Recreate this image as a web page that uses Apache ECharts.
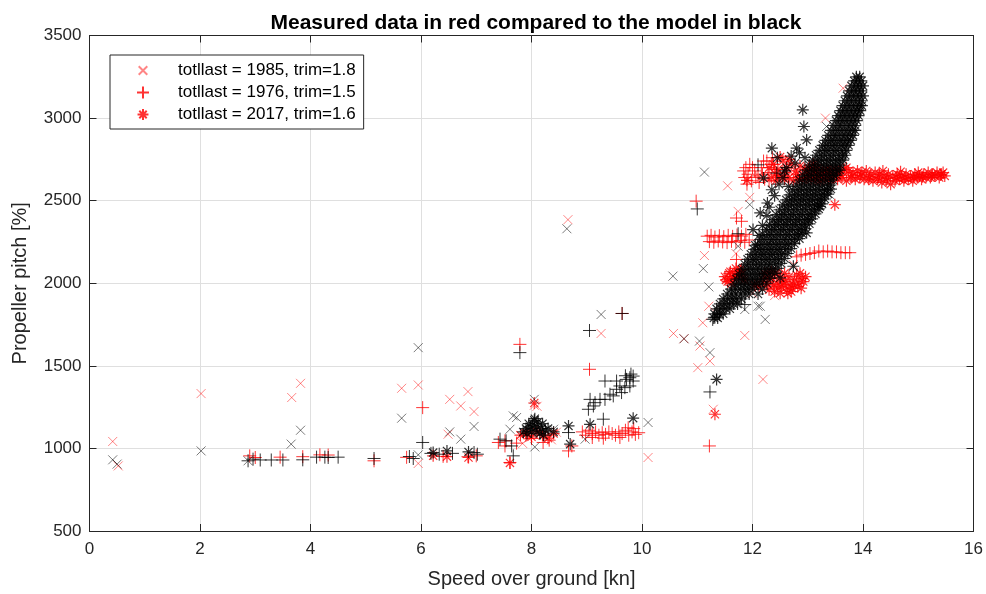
<!DOCTYPE html>
<html>
<head>
<meta charset="utf-8">
<script src="https://cdn.jsdelivr.net/npm/echarts@6/dist/echarts.min.js"></script>
<style>
  html, body { margin: 0; padding: 0; background: #fff; }
  #chart { width: 986px; height: 594px; }
</style>
</head>
<body>
<div id="chart"></div>
<script>
// Axis ticks
const xTicks = [0, 2, 4, 6, 8, 10, 12, 14, 16];
const yTicks = [500, 1000, 1500, 2000, 2500, 3000, 3500];

// Legend labels of the measured series
const nameMeas1985 = 'totllast = 1985, trim=1.8';
const nameMeas1976 = 'totllast = 1976, trim=1.5';
const nameMeas2017 = 'totllast = 2017, trim=1.6';

// Measured data, totllast = 1985 (speed [kn], pitch)
const measured1985 = [
  [0.42, 1042], [0.52, 894], [2.02, 1332], [3.66, 1308], [3.82, 1394],
  [5.95, 909], [5.65, 1364], [5.95, 1384], [6.52, 1297], [6.85, 1344],
  [6.72, 1257], [6.96, 1223], [6.49, 1086], [8.05, 1261], [8.66, 2385],
  [9.26, 1696], [10.11, 945], [10.57, 1696], [10.76, 1664], [11.05, 1620],
  [11.23, 1529], [11.01, 1489], [11.10, 1761], [11.21, 1861], [11.29, 1237],
  [11.13, 2168], [11.74, 2435], [11.86, 1684], [12.19, 1418], [13.32, 3000],
  [13.64, 3181], [11.95, 2520], [12.74, 2113], [12.00, 1940], [12.40, 1925],
  [7.95, 1062], [8.22, 1082], [8.36, 1052], [8.45, 1098], [7.84, 1030],
  [8.10, 1255], [11.55, 2590], [11.70, 2180]
];

// Measured data, totllast = 1976
const measured1976 = [
  [2.90, 955], [3.00, 945], [3.45, 947], [3.86, 950], [4.17, 961], [4.32, 960],
  [5.15, 925], [5.74, 946], [6.03, 1247], [6.40, 952], [6.85, 950], [7.00, 955],
  [7.40, 1036], [7.52, 1046], [7.73, 1032], [7.61, 915], [7.79, 1630],
  [7.52, 1015], [8.21, 1036], [7.90, 1080], [8.00, 1060], [8.32, 1050],
  [8.67, 985], [8.73, 1015], [9.05, 1479], [9.64, 1817], [10.98, 2497], [11.22, 1015],
  [11.71, 2395], [11.80, 2375], [11.71, 2144], [11.80, 2083],
  // run near 1100
  [8.92, 1100], [8.98, 1080], [9.04, 1110], [9.10, 1090], [9.16, 1100], [9.22, 1080],
  [9.28, 1095], [9.34, 1085], [9.40, 1100], [9.46, 1090], [9.52, 1080], [9.58, 1100],
  [9.64, 1090], [9.70, 1110], [9.76, 1080], [9.82, 1100], [9.88, 1085], [9.94, 1095],
  [9.30, 1062], [9.60, 1066], [9.85, 1120], [9.75, 1125], [9.10, 1066],
  // run near 2270
  [11.18, 2285], [11.25, 2290], [11.32, 2280], [11.40, 2288], [11.48, 2282],
  [11.56, 2290], [11.64, 2284], [11.72, 2292], [11.80, 2286], [11.88, 2296],
  [11.22, 2252], [11.30, 2248], [11.38, 2256], [11.46, 2250], [11.54, 2246],
  [11.62, 2254], [11.70, 2250], [11.78, 2258], [11.86, 2248], [11.94, 2262],
  // run near 2190
  [12.80, 2160], [12.88, 2170], [12.96, 2175], [13.04, 2180], [13.12, 2185],
  [13.20, 2195], [13.28, 2190], [13.36, 2195], [13.44, 2190], [13.52, 2190],
  [13.60, 2185], [13.68, 2185], [13.76, 2185],
  // start of run near 2650
  [11.86, 2640], [11.92, 2660], [11.98, 2620], [12.04, 2680], [12.10, 2650],
  [12.16, 2700], [12.22, 2630], [12.28, 2670], [12.34, 2720], [11.90, 2600],
  [12.00, 2700], [12.12, 2610], [12.26, 2740], [12.40, 2690], [12.46, 2650],
  [11.84, 2680], [11.95, 2720], [12.06, 2640], [12.18, 2660], [12.30, 2620],
  [12.20, 2740], [12.36, 2760], [11.88, 2700]
];

// Measured data, totllast = 2017
const measured2017 = [
  [6.22, 955], [6.47, 950], [6.86, 945], [7.61, 912], [7.80, 1080], [7.90, 1092],
  [8.00, 1070], [8.10, 1100], [8.20, 1080], [8.30, 1062], [8.40, 1090], [8.05, 1275],
  [11.32, 1207], [13.49, 2476], [11.90, 2623],
  // cluster near 2000
  [11.50, 2040], [11.58, 2060], [11.66, 2030], [11.74, 2070], [11.62, 2000],
  [11.70, 2090], [11.55, 2010], [11.80, 2050], [11.85, 2020], [12.20, 2010],
  [12.28, 1990], [12.36, 2030], [12.44, 2000], [12.52, 1980], [12.60, 2010],
  [12.68, 1990], [12.76, 2020], [12.84, 2000], [12.90, 2030], [12.30, 1960],
  [12.40, 1950], [12.50, 1940], [12.62, 1960], [12.72, 1970], [12.22, 2060],
  [12.34, 2070], [12.48, 2050], [12.58, 2060], [12.80, 2050], [12.12, 1980],
  [12.04, 1990], [11.60, 2070], [11.68, 2050], [11.78, 2080], [11.52, 2020],
  [11.64, 2040], [12.26, 2030], [12.42, 2060], [12.54, 2020], [12.66, 2040],
  [12.74, 1990], [12.86, 2060], [12.92, 2010], [12.38, 1990], [12.46, 1970],
  [12.56, 1990], [12.64, 1940], [12.70, 1950], [12.82, 1980], [12.88, 1970],
  [12.96, 2040],
  // run near 2650, upper row
  [12.30, 2700], [12.38, 2720], [12.46, 2690], [12.55, 2740], [12.62, 2700],
  [12.70, 2720], [12.78, 2680], [12.86, 2710], [12.94, 2690], [13.02, 2700],
  [13.10, 2680], [13.18, 2700], [13.26, 2670], [13.34, 2690], [13.42, 2680],
  [13.50, 2690], [13.58, 2670], [13.66, 2690], [13.74, 2680], [13.82, 2670],
  [13.90, 2680], [13.98, 2670], [14.06, 2680], [14.14, 2660], [14.22, 2670],
  [14.30, 2660], [14.38, 2650], [14.46, 2660], [14.54, 2650], [14.62, 2660],
  [14.70, 2650], [14.78, 2660], [14.86, 2650], [14.94, 2660], [15.02, 2650],
  [15.10, 2660], [15.18, 2670], [15.26, 2660], [15.34, 2670], [15.42, 2660],
  [15.48, 2650],
  // run near 2650, middle row
  [12.42, 2660], [12.60, 2670], [12.80, 2660], [13.00, 2665], [13.20, 2655],
  [13.40, 2660], [13.60, 2655], [13.80, 2650], [13.96, 2655], [14.12, 2645],
  [14.28, 2640], [14.44, 2635], [14.60, 2640], [14.76, 2640], [14.92, 2640],
  [15.08, 2645], [15.24, 2650], [15.40, 2655], [14.36, 2680], [14.68, 2675],
  [15.00, 2670], [13.70, 2700], [13.10, 2720], [12.66, 2750], [12.50, 2765],
  // run near 2650, lower row
  [12.34, 2640], [12.42, 2620], [12.50, 2650], [12.58, 2630], [12.66, 2640],
  [12.74, 2620], [12.82, 2640], [12.90, 2630], [12.98, 2640], [13.06, 2630],
  [13.14, 2640], [13.22, 2620], [13.30, 2640], [13.38, 2630], [13.46, 2640],
  [13.54, 2630], [13.62, 2640], [13.70, 2620], [13.78, 2640], [13.86, 2630],
  [13.94, 2640], [14.02, 2630], [14.10, 2630], [14.18, 2620], [14.26, 2630],
  [14.34, 2610], [14.42, 2620], [14.50, 2600], [14.58, 2620], [14.66, 2630],
  [14.74, 2620], [14.82, 2630], [14.90, 2620], [14.98, 2640], [15.06, 2630],
  [15.14, 2640], [15.22, 2640], [15.30, 2650], [15.38, 2640], [15.45, 2670]
];

// Model, totllast = 1985
const model1985 = [
  [0.42, 931], [0.50, 905], [2.02, 985], [3.65, 1026], [3.82, 1110], [2.87, 925],
  [5.95, 961], [5.65, 1183], [5.95, 1610], [6.96, 1133], [6.52, 1100], [6.72, 1056],
  [8.05, 1297], [8.06, 1009], [7.67, 1197], [7.61, 1116], [7.73, 1187], [8.40, 1116],
  [8.64, 2330], [9.26, 1811], [10.11, 1157], [8.97, 1056], [10.76, 1664], [11.04, 1650],
  [11.23, 1580], [11.13, 2673], [11.11, 2089], [10.56, 2043], [11.21, 1978],
  [11.74, 2224], [11.86, 1841], [12.14, 1861], [12.23, 1781], [11.95, 2476],
  [13.40, 2536], [13.34, 2949], [12.74, 2103], [12.10, 1861]
];

// Model, totllast = 1976
const model1976 = [
  [2.87, 925], [2.96, 935], [3.09, 930], [3.29, 930], [3.50, 930], [3.86, 931],
  [4.11, 947], [4.26, 947], [4.32, 945], [4.50, 947], [5.15, 939], [5.79, 951],
  [5.86, 939], [6.03, 1036], [6.18, 970], [6.33, 965], [6.57, 970], [6.96, 975],
  [7.02, 965], [7.43, 1056], [7.54, 1046], [7.64, 1015], [7.67, 955], [7.79, 1580],
  [8.67, 1096], [9.05, 1714], [9.64, 1817],
  [9.06, 1297], [9.15, 1277], [9.24, 1297], [9.33, 1297], [9.42, 1328], [9.54, 1358],
  [9.60, 1378], [9.72, 1418], [9.78, 1428], [9.84, 1408], [9.30, 1177], [9.48, 1318],
  [9.54, 1408], [9.33, 1408], [9.63, 1338], [9.78, 1378], [9.84, 1438], [9.69, 1368],
  [9.12, 1257], [9.03, 1237], [9.70, 1440], [9.80, 1450],
  [11.00, 2450], [11.23, 1342], [11.28, 1781], [11.32, 1795], [11.40, 1810],
  [11.74, 2300], [11.86, 1871], [12.44, 2667], [12.10, 2717]
];

// Model, totllast = 2017: scattered points
const model2017 = [
  [6.22, 975], [6.47, 985], [6.86, 979], [9.84, 1183], [9.06, 1146], [8.67, 1136],
  [8.70, 1026], [11.35, 1418],
  [7.90, 1120], [7.95, 1150], [8.00, 1100], [8.05, 1170], [8.10, 1130], [8.15, 1090],
  [8.20, 1150], [8.25, 1110], [7.98, 1130], [8.08, 1110], [8.12, 1160], [8.02, 1140],
  [8.18, 1120], [7.92, 1090], [8.22, 1080], [8.30, 1120], [8.40, 1100], [7.85, 1100],
  [8.06, 1180],
  [12.91, 3050], [12.93, 2949], [12.35, 2818], [12.98, 2868], [12.80, 2818],
  [12.20, 2637], [12.65, 2586], [12.77, 2727], [13.22, 2465], [12.98, 2305],
  [12.74, 2103], [12.50, 2033], [12.35, 2566], [12.27, 2486], [12.14, 2426],
  [12.01, 2325], [12.58, 2680], [12.45, 2760],
  // right flank of the band
  [12.10, 1935], [12.18, 1965], [12.26, 2000], [12.32, 2030], [12.40, 2060],
  [12.46, 2090], [12.52, 2120], [12.58, 2150], [12.64, 2180], [12.70, 2210],
  [12.76, 2240], [12.85, 2270], [12.90, 2300], [12.96, 2330], [13.03, 2360],
  [13.08, 2390], [13.14, 2420], [13.20, 2450], [13.26, 2480], [13.31, 2510],
  [13.37, 2540], [13.42, 2570],
  // left flank of the band
  [12.05, 2230], [12.12, 2290], [12.18, 2350], [12.26, 2410], [12.30, 2460],
  [12.40, 2530], [12.48, 2600], [12.55, 2640], [12.62, 2700], [12.70, 2770],
  [12.85, 2790], [12.95, 2760]
];

// Model, totllast = 2017: dense band, rows of [pitch, speeds]
const model2017Band = [
  [1790, [11.30, 11.37]],
  [1815, [11.31, 11.40, 11.47]],
  [1845, [11.35, 11.43, 11.52, 11.59]],
  [1875, [11.41, 11.49, 11.58, 11.66, 11.73]],
  [1905, [11.47, 11.55, 11.64, 11.71, 11.80]],
  [1935, [11.54, 11.62, 11.70, 11.79, 11.87, 11.94]],
  [1965, [11.61, 11.69, 11.78, 11.86, 11.93, 12.01]],
  [1995, [11.67, 11.75, 11.84, 11.91, 12.00, 12.07, 12.15]],
  [2025, [11.71, 11.80, 11.87, 11.96, 12.03, 12.12, 12.19]],
  [2055, [11.76, 11.83, 11.92, 12.00, 12.09, 12.16, 12.23, 12.31]],
  [2085, [11.81, 11.90, 11.97, 12.06, 12.13, 12.22, 12.29, 12.37]],
  [2115, [11.86, 11.93, 12.02, 12.10, 12.17, 12.26, 12.33, 12.42]],
  [2145, [11.91, 12.00, 12.07, 12.16, 12.24, 12.31, 12.40, 12.47]],
  [2175, [11.97, 12.05, 12.14, 12.21, 12.30, 12.37, 12.46, 12.53]],
  [2205, [12.03, 12.12, 12.19, 12.28, 12.35, 12.44, 12.51, 12.60]],
  [2235, [12.09, 12.17, 12.26, 12.33, 12.42, 12.49, 12.58, 12.65]],
  [2265, [12.14, 12.22, 12.31, 12.38, 12.46, 12.55, 12.62, 12.70, 12.77]],
  [2295, [12.19, 12.28, 12.35, 12.44, 12.51, 12.60, 12.67, 12.76, 12.83]],
  [2325, [12.25, 12.34, 12.41, 12.50, 12.57, 12.66, 12.73, 12.82, 12.88]],
  [2355, [12.31, 12.40, 12.47, 12.56, 12.63, 12.72, 12.79, 12.88, 12.95]],
  [2385, [12.37, 12.46, 12.53, 12.62, 12.69, 12.78, 12.85, 12.94, 13.01]],
  [2415, [12.43, 12.52, 12.59, 12.68, 12.75, 12.84, 12.91, 13.00, 13.06]],
  [2445, [12.49, 12.58, 12.65, 12.74, 12.81, 12.90, 12.97, 13.06, 13.12]],
  [2475, [12.55, 12.64, 12.71, 12.80, 12.87, 12.96, 13.03, 13.12, 13.18]],
  [2505, [12.61, 12.70, 12.77, 12.86, 12.93, 13.02, 13.09, 13.18, 13.24]],
  [2535, [12.67, 12.76, 12.83, 12.92, 12.99, 13.08, 13.15, 13.24, 13.30]],
  [2565, [12.73, 12.82, 12.89, 12.98, 13.05, 13.14, 13.21, 13.30, 13.35]],
  [2595, [12.79, 12.88, 12.95, 13.04, 13.11, 13.20, 13.27, 13.36, 13.41]],
  [2625, [12.85, 12.94, 13.01, 13.10, 13.17, 13.26, 13.33, 13.42, 13.46]],
  [2655, [12.91, 13.00, 13.07, 13.16, 13.23, 13.32, 13.39, 13.47, 13.52]],
  [2685, [12.97, 13.06, 13.13, 13.22, 13.29, 13.38, 13.45, 13.53, 13.58]],
  [2715, [13.03, 13.12, 13.19, 13.28, 13.35, 13.44, 13.51, 13.59]],
  [2745, [13.09, 13.18, 13.25, 13.34, 13.41, 13.50, 13.57, 13.64]],
  [2775, [13.15, 13.24, 13.31, 13.40, 13.47, 13.56, 13.63, 13.68]],
  [2805, [13.21, 13.30, 13.37, 13.46, 13.53, 13.62, 13.70]],
  [2835, [13.27, 13.35, 13.44, 13.51, 13.60, 13.67, 13.74]],
  [2865, [13.32, 13.41, 13.48, 13.57, 13.64, 13.72, 13.78]],
  [2895, [13.37, 13.46, 13.53, 13.62, 13.69, 13.77, 13.82]],
  [2925, [13.42, 13.50, 13.58, 13.66, 13.74, 13.81, 13.86]],
  [2955, [13.46, 13.55, 13.62, 13.71, 13.78, 13.86]],
  [2985, [13.51, 13.59, 13.67, 13.75, 13.83, 13.89]],
  [3015, [13.55, 13.63, 13.71, 13.79, 13.86, 13.92]],
  [3045, [13.59, 13.67, 13.75, 13.83, 13.90, 13.95]],
  [3075, [13.63, 13.71, 13.79, 13.87, 13.94, 13.98]],
  [3105, [13.67, 13.75, 13.83, 13.91, 13.98]],
  [3135, [13.71, 13.79, 13.87, 13.94, 14.00]],
  [3165, [13.75, 13.83, 13.91, 13.97]],
  [3195, [13.79, 13.87, 13.94, 14.00]],
  [3225, [13.84, 13.91, 13.97]],
  [3250, [13.88, 13.94]]
];

// Marker shapes drawn as stroked paths: 'x', '+', '*'
const SYM_X = 'path://M0,0L10,10M10,0L0,10';
const SYM_PLUS = 'path://M5,0L5,10M0,5L10,5';
const SYM_STAR = 'path://M5,0L5,10M0,5L10,5M1.6,1.6L8.4,8.4M8.4,1.6L1.6,8.4';
// Legend icons: the 'x' keeps some empty margin so it stays smaller than '+'
const ICON_X = 'path://M-2,-2M12,12M0,0L10,10M10,0L0,10';
const ICON_STAR = 'path://M-0.5,-0.5M10.5,10.5M5,0L5,10M0,5L10,5M1.6,1.6L8.4,8.4M8.4,1.6L1.6,8.4';

const FONT = '"Liberation Sans", Arial, Helvetica, sans-serif';
const AXIS_COLOR = '#262626';
const GRID_COLOR = '#dfdfdf';

const bandPoints = model2017Band.flatMap(([y, xs]) => xs.map(x => [x, y]));

function markerSeries(name, data, symbol, size, color, width) {
  return {
    type: 'scatter',
    name: name,
    data: data,
    symbol: symbol,
    symbolSize: size,
    silent: true,
    itemStyle: { color: 'rgba(0,0,0,0)', borderColor: color, borderWidth: width },
    emphasis: { disabled: true }
  };
}

// Top / right frame lines with inward ticks
function frameAxis(pos, min, max, interval) {
  return {
    type: 'value',
    position: pos,
    min: min, max: max, interval: interval,
    axisLine: { show: true, onZero: false, lineStyle: { color: AXIS_COLOR, width: 1 } },
    axisTick: { show: true, inside: true, length: 7, lineStyle: { color: AXIS_COLOR } },
    axisLabel: { show: false },
    splitLine: { show: false }
  };
}

const chart = echarts.init(document.getElementById('chart'), null, { renderer: 'canvas' });

const xMin = xTicks[0], xMax = xTicks[xTicks.length - 1];
const yMin = yTicks[0], yMax = yTicks[yTicks.length - 1];

const option = {
  animation: false,
  backgroundColor: '#fff',
  title: {
    text: 'Measured data in red compared to the model in black',
    left: 531,
    top: 8,
    textAlign: 'center',
    textStyle: { fontFamily: FONT, fontSize: 21, fontWeight: 'bold', color: '#000' }
  },
  grid: { left: 89.5, right: 12.5, top: 35.5, bottom: 62, containLabel: false },
  legend: {
    orient: 'vertical',
    left: 110,
    top: 55,
    padding: [7, 8, 6, 26],
    itemWidth: 60,
    itemHeight: 12,
    itemGap: 5,
    backgroundColor: '#fff',
    borderColor: AXIS_COLOR,
    borderWidth: 1,
    borderRadius: 0,
    selectedMode: false,
    data: [
      { name: nameMeas1985, icon: ICON_X },
      { name: nameMeas1976 },
      { name: nameMeas2017, icon: ICON_STAR }
    ],
    textStyle: { fontFamily: FONT, fontSize: 17, color: '#000', lineHeight: 17 }
  },
  xAxis: [
    {
      type: 'value', min: xMin, max: xMax, interval: 2,
      position: 'bottom',
      name: 'Speed over ground [kn]', nameLocation: 'middle', nameGap: 38,
      nameTextStyle: { fontFamily: FONT, fontSize: 20, color: AXIS_COLOR },
      axisLine: { show: true, onZero: false, lineStyle: { color: AXIS_COLOR, width: 1 } },
      axisTick: { show: true, inside: true, length: 7, lineStyle: { color: AXIS_COLOR } },
      axisLabel: { fontFamily: FONT, fontSize: 17, color: AXIS_COLOR, margin: 10 },
      splitLine: { show: true, lineStyle: { color: GRID_COLOR, width: 1 } }
    },
    frameAxis('top', xMin, xMax, 2)
  ],
  yAxis: [
    {
      type: 'value', min: yMin, max: yMax, interval: 500,
      position: 'left',
      name: 'Propeller pitch [%]', nameLocation: 'middle', nameGap: 59,
      nameTextStyle: { fontFamily: FONT, fontSize: 20, color: AXIS_COLOR },
      axisLine: { show: true, onZero: false, lineStyle: { color: AXIS_COLOR, width: 1 } },
      axisTick: { show: true, inside: true, length: 7, lineStyle: { color: AXIS_COLOR } },
      axisLabel: { fontFamily: FONT, fontSize: 17, color: AXIS_COLOR, margin: 8,
                   formatter: v => String(v) },
      splitLine: { show: true, lineStyle: { color: GRID_COLOR, width: 1 } }
    },
    frameAxis('right', yMin, yMax, 500)
  ],
  series: [
    markerSeries(nameMeas1985, measured1985, SYM_X, 9, 'rgba(255,0,0,0.6)', 1),
    markerSeries(nameMeas1976, measured1976, SYM_PLUS, 13, '#ff0000', 1),
    markerSeries(nameMeas2017, measured2017, SYM_STAR, 12, '#ff0000', 1.2),
    markerSeries('model 1985', model1985, SYM_X, 9, 'rgba(0,0,0,0.65)', 1),
    markerSeries('model 1976', model1976, SYM_PLUS, 13, '#000000', 1),
    markerSeries('model 2017', model2017.concat(bandPoints), SYM_STAR, 12, '#000000', 1.2)
  ]
};

chart.setOption(option);
</script>
</body>
</html>
